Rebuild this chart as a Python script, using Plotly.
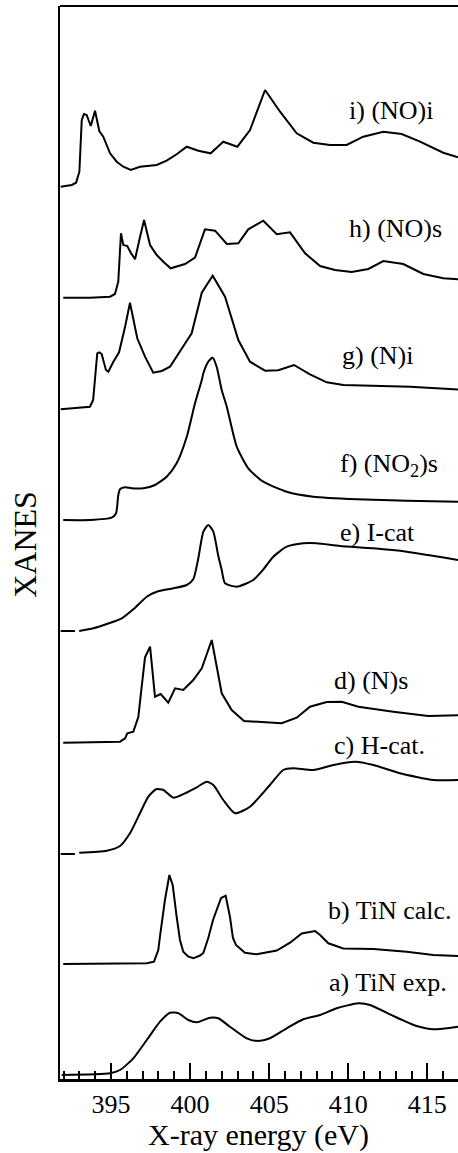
import plotly.graph_objects as go

# ---------------- data ----------------
labels = ["a) TiN exp.", "b) TiN calc.", "c) H-cat.", "d) (N)s", "e) I-cat",
          "f) (NO<sub>2</sub>)s", "g) (N)i", "h) (NO)s", "i) (NO)i"]

tick_values = [395, 400, 405, 410, 415]
tick_labels = ["395", "400", "405", "410", "415"]

energy_a = [391.88, 394.94, 395.57, 396.41, 397.26, 398.10, 398.73, 399.26, 399.89, 400.42,
            401.26, 401.78, 402.52, 403.58, 404.31, 405.05, 406.11, 407.16, 408.22, 409.27,
            410.64, 411.38, 412.85, 414.33, 415.38, 416.94]
xanes_a = [3, 4.7, 8, 19.7, 38, 56.3, 65.3, 64.7, 58, 55.7,
           60.3, 59.7, 51.3, 39.7, 37, 39.7, 49.7, 58.7, 63, 69.7,
           74.7, 73, 62, 52, 48.7, 51.3]

energy_b = [391.98, 397.26, 397.72, 397.99, 398.10, 398.41, 398.69, 398.90, 399.15, 399.36,
            399.57, 399.87, 400.20, 400.63, 400.84, 401.15, 401.45, 401.78, 401.96, 402.25,
            402.52, 402.71, 402.90, 403.47, 404.21, 405.48, 406.32, 407.06, 407.90, 408.22,
            408.74, 409.69, 411.59, 413.70, 415.38, 416.94]
xanes_b = [114, 114.7, 116.3, 128, 142, 178, 203, 193, 161.3, 138,
           126.3, 121.5, 119.7, 122.5, 125, 140, 158, 171.3, 180, 182.3,
           161.3, 140, 133, 125.3, 123.7, 127.5, 135.3, 144.5, 147, 143,
           134.7, 129.5, 129, 126.3, 123, 122]

energy_c = [391.82, 392.72, None, 392.99, 394.73, 395.57, 396.20, 396.83, 397.36, 397.85,
            398.31, 398.94, 399.68, 400.42, 401.05, 401.47, 402.10, 402.84, 403.79, 405.05,
            405.89, 406.53, 407.79, 409.06, 410.43, 411.59, 413.27, 415.38, 416.94]
xanes_c = [224, 224, None, 225.3, 227.3, 232, 244.7, 264.7, 281.3, 288.7,
           288, 280.3, 284.7, 290.7, 296.3, 293, 278, 264.7, 271.3, 293,
           308, 309.7, 308, 313, 316.3, 313, 304.7, 298, 298]

energy_d = [391.98, 395.57, 395.89, 396.03, 396.41, 396.73, 396.94, 397.15, 397.47, 397.78,
            398.14, 398.62, 399.05, 399.57, 400.20, 400.74, 401.37, 402.00, 402.63, 403.41,
            405.79, 406.74, 407.58, 408.64, 409.59, 410.64, 412.85, 415.06, 416.94]
xanes_d = [335.3, 336.3, 339.7, 344.7, 346.3, 361.3, 391.3, 420.7, 431.3, 381.3,
           384, 375.3, 389.7, 388, 398, 409.7, 438, 384.7, 368, 357,
           354.7, 360.3, 371.3, 376, 376.3, 371.3, 366.3, 362, 362.7]

energy_e = [391.82, 392.72, None, 392.99, 393.88, 394.73, 395.68, 396.41, 397.26, 397.89,
            398.94, 399.79, 400.20, 400.50, 400.84, 401.15, 401.47, 401.77, 402.00, 402.21,
            402.95, 403.99, 404.60, 405.26, 406.11, 407.16, 408.01, 409.48, 411.59, 413.70,
            416.94]
xanes_e = [447, 447, None, 447, 449.7, 454, 459.7, 468.7, 481.3, 486.3,
           489.7, 493, 498.7, 518, 546.3, 553, 546.3, 523, 508, 494.7,
           491.3, 498, 508, 521.3, 531.3, 534.7, 534.7, 532, 529.7, 526.3,
           518]

energy_f = [391.98, 393.67, 395.04, 395.32, 395.46, 395.57, 395.89, 396.31, 397.04, 397.78,
            398.52, 399.15, 399.79, 400.31, 400.74, 400.84, 401.15, 401.43, 401.68, 402.00,
            402.32, 402.95, 403.68, 404.63, 406.11, 407.79, 410.54, 413.70, 416.94]
xanes_f = [558, 558, 560.3, 564.7, 583, 588.7, 590.7, 589.7, 589.7, 593,
           601.3, 614.7, 641.3, 674.7, 698, 704.7, 716.3, 720.3, 711.3, 688,
           671.3, 631.3, 609.7, 596.3, 586.3, 581.3, 578.7, 577.3, 576.3]

energy_g = [391.82, 393.67, 393.87, 393.99, 394.13, 394.26, 394.41, 394.68, 394.83, 395.15,
            395.51, 395.89, 396.20, 396.66, 397.15, 397.67, 398.21, 398.73, 399.36, 400.10,
            400.74, 401.43, 402.21, 403.05, 403.79, 404.74, 405.58, 406.57, 407.58, 408.64,
            409.69, 411.80, 413.91, 416.94]
xanes_g = [668.7, 671.3, 678, 698, 724.7, 725.7, 724, 708, 706.3, 716.3,
           725.7, 751.3, 775.3, 739.7, 721.3, 705.3, 707, 711.3, 726.3, 744.7,
           785.3, 802.3, 781.3, 738, 716.3, 707.3, 707.7, 713, 703.7, 695.7,
           693, 692, 691.3, 688.5]

energy_h = [391.98, 393.67, 394.94, 395.25, 395.46, 395.63, 395.78, 396.03, 396.25, 396.52,
            396.79, 397.09, 397.47, 397.89, 398.31, 398.77, 399.68, 400.31, 400.94, 401.58,
            402.32, 403.05, 403.68, 404.63, 405.48, 406.32, 407.27, 408.22, 409.16, 410.22,
            411.27, 412.22, 413.48, 414.75, 416.01, 416.94]
xanes_h = [780.3, 780.3, 781.3, 784, 796.3, 844.7, 833, 832, 825.3, 818.7,
           838, 858, 833, 823, 816.3, 809.7, 814, 820.3, 848.7, 847.3,
           834, 834.7, 848.7, 857.3, 843.7, 845.7, 824.7, 812, 808, 806,
           809, 817, 814, 804, 799.7, 798.7]

energy_i = [391.82, 392.52, 392.79, 393.00, 393.15, 393.29, 393.46, 393.72, 393.99, 394.26,
            394.51, 394.94, 395.36, 395.78, 396.25, 396.83, 397.89, 398.52, 399.15, 399.79,
            400.52, 401.30, 402.10, 402.99, 403.79, 404.74, 405.69, 406.74, 407.79, 408.85,
            409.90, 410.95, 412.22, 413.38, 414.54, 416.01, 416.94]
xanes_i = [891.3, 893, 895.3, 906.3, 958, 964, 963, 952, 967.3, 947,
           941.3, 924.7, 916.3, 911.3, 908, 911.3, 913, 917.3, 923.7, 931.3,
           927.3, 924.7, 936.3, 931.3, 948, 988, 966.3, 944.7, 935.3, 933,
           933, 941.3, 946.3, 944, 936.3, 925.3, 920.7]

# ---------------- figure ----------------
FONT = "Liberation Serif"

series = [
    (energy_a, xanes_a, "spline"),
    (energy_b, xanes_b, "linear"),
    (energy_c, xanes_c, "spline"),
    (energy_d, xanes_d, "linear"),
    (energy_e, xanes_e, "spline"),
    (energy_f, xanes_f, "spline"),
    (energy_g, xanes_g, "linear"),
    (energy_h, xanes_h, "linear"),
    (energy_i, xanes_i, "linear"),
]

fig = go.Figure()
for (ex, ey, shape), name in zip(series, labels):
    line = dict(color="black", width=2, shape=shape)
    if shape == "spline":
        line["smoothing"] = 0.6
    fig.add_trace(go.Scatter(x=ex, y=ey, mode="lines", line=line, name=name,
                             connectgaps=False, showlegend=False, hoverinfo="skip"))

# curve labels (layout positions in data coordinates)
label_pos = [(408.64, 96), (408.60, 168), (408.96, 333), (408.96, 398), (409.33, 546),
             (409.37, 613), (409.48, 723), (409.90, 850), (409.90, 968)]
for name, (lx, ly) in zip(labels, label_pos):
    fig.add_annotation(x=lx, y=ly, xref="x", yref="y", text=name, showarrow=False,
                       xanchor="left", yanchor="middle",
                       font=dict(family=FONT, size=26, color="black"))

# axis titles
fig.add_annotation(x=0.498, y=-0.052, xref="paper", yref="paper", text="X-ray energy (eV)",
                   showarrow=False, xanchor="center", yanchor="middle",
                   font=dict(family=FONT, size=30, color="black"))
fig.add_annotation(x=-0.09, y=0.498, xref="paper", yref="paper", text="XANES",
                   textangle=-90, showarrow=False, xanchor="center", yanchor="middle",
                   font=dict(family=FONT, size=32, color="black"))

# top frame line
fig.add_shape(type="line", xref="paper", yref="paper", x0=0, x1=1, y0=1, y1=1,
              line=dict(color="black", width=2))

fig.update_xaxes(range=[391.775, 416.94], showline=True, linecolor="black", linewidth=2.5,
                 ticks="inside", ticklen=16, tickwidth=2, tickcolor="black",
                 tickvals=tick_values, ticktext=tick_labels,
                 tickfont=dict(family=FONT, size=26, color="black"),
                 minor=dict(ticks="inside", ticklen=8, tickwidth=2, tickcolor="black",
                            dtick=1, tick0=390, showgrid=False),
                 showgrid=False, zeroline=False)
fig.update_yaxes(range=[-1, 1072], showline=True, linecolor="black", linewidth=2,
                 showticklabels=False, ticks="", showgrid=False, zeroline=False)

fig.update_layout(width=458, height=1153, margin=dict(l=60, r=0, t=6, b=74),
                  plot_bgcolor="white", paper_bgcolor="white")

fig.write_html("out.html", config={"displayModeBar": False, "staticPlot": True},
               post_script="document.body.style.margin='0';document.body.style.overflow='hidden';")
